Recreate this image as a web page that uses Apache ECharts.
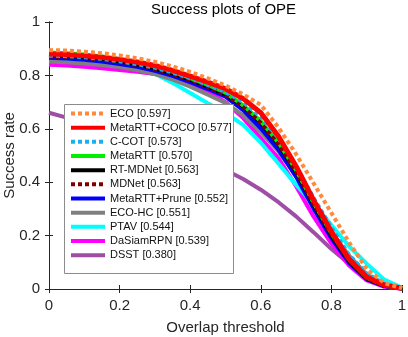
<!DOCTYPE html>
<html style="height: 100%">
<head>
    <meta charset="utf-8">
    <title>Success plots of OPE</title>
    <script src="https://cdn.jsdelivr.net/npm/echarts@6/dist/echarts.min.js"></script>
    <style>
        html, body { margin: 0; padding: 0; background: #fff; }
        #container { width: 408px; height: 337px; }
    </style>
</head>
<body>
<div id="container"></div>
<script>
    // overlap thresholds (x)
    var thresholds = [0, 0.05, 0.1, 0.15, 0.2, 0.25, 0.3, 0.35, 0.4, 0.45, 0.5, 0.55, 0.6, 0.65, 0.7, 0.75, 0.8, 0.85, 0.9, 0.95, 1];
    var tickLabels = ['0', '0.2', '0.4', '0.6', '0.8', '1'];

    // success rate of each tracker
    var eco      = [0.895, 0.893, 0.889, 0.883, 0.875, 0.864, 0.851, 0.834, 0.813, 0.789, 0.762, 0.729, 0.690, 0.605, 0.505, 0.395, 0.285, 0.175, 0.075, 0.022, 0.003];
    var metaCoco = [0.880, 0.878, 0.874, 0.868, 0.860, 0.850, 0.837, 0.819, 0.797, 0.775, 0.750, 0.713, 0.660, 0.572, 0.460, 0.332, 0.215, 0.112, 0.045, 0.015, 0.003];
    var ccot     = [0.874, 0.872, 0.868, 0.862, 0.853, 0.842, 0.829, 0.811, 0.789, 0.764, 0.737, 0.700, 0.645, 0.565, 0.460, 0.340, 0.230, 0.128, 0.058, 0.020, 0.003];
    var metaRtt  = [0.886, 0.883, 0.878, 0.871, 0.861, 0.849, 0.834, 0.814, 0.790, 0.764, 0.735, 0.688, 0.628, 0.548, 0.445, 0.322, 0.208, 0.110, 0.042, 0.013, 0.002];
    var rtMdnet  = [0.876, 0.873, 0.869, 0.862, 0.853, 0.841, 0.826, 0.807, 0.784, 0.758, 0.729, 0.684, 0.622, 0.542, 0.438, 0.315, 0.200, 0.104, 0.039, 0.012, 0.002];
    var mdnet    = [0.871, 0.869, 0.865, 0.859, 0.850, 0.839, 0.825, 0.806, 0.783, 0.757, 0.728, 0.683, 0.622, 0.543, 0.440, 0.318, 0.203, 0.106, 0.041, 0.013, 0.002];
    var prune    = [0.866, 0.863, 0.859, 0.852, 0.843, 0.832, 0.817, 0.798, 0.775, 0.749, 0.720, 0.670, 0.602, 0.522, 0.420, 0.300, 0.190, 0.098, 0.036, 0.011, 0.002];
    var ecoHc    = [0.852, 0.849, 0.845, 0.839, 0.831, 0.820, 0.805, 0.784, 0.758, 0.728, 0.697, 0.650, 0.588, 0.515, 0.425, 0.318, 0.215, 0.125, 0.055, 0.018, 0.002];
    var ptav     = [0.860, 0.857, 0.852, 0.846, 0.838, 0.827, 0.806, 0.772, 0.734, 0.696, 0.660, 0.615, 0.548, 0.470, 0.390, 0.318, 0.240, 0.160, 0.095, 0.035, 0.004];
    var daSiam   = [0.840, 0.837, 0.832, 0.827, 0.820, 0.814, 0.805, 0.790, 0.768, 0.742, 0.700, 0.640, 0.565, 0.490, 0.385, 0.270, 0.170, 0.088, 0.032, 0.008, 0.001];
    var dsst     = [0.660, 0.642, 0.622, 0.602, 0.582, 0.562, 0.541, 0.519, 0.496, 0.472, 0.446, 0.412, 0.372, 0.325, 0.272, 0.212, 0.150, 0.095, 0.045, 0.014, 0.002];

    // legend order (as in the figure)
    var names = ['ECO [0.597]', 'MetaRTT+COCO [0.577]', 'C-COT [0.573]', 'MetaRTT [0.570]', 'RT-MDNet [0.563]',
        'MDNet [0.563]', 'MetaRTT+Prune [0.552]', 'ECO-HC [0.551]', 'PTAV [0.544]', 'DaSiamRPN [0.539]', 'DSST [0.380]'];

    function pairs(ys) {
        var out = [];
        for (var i = 0; i < thresholds.length; i++) {
            out.push([thresholds[i], ys[i]]);
        }
        return out;
    }

    function mkLine(name, ys, color, width, dash) {
        return {
            name: name,
            type: 'line',
            data: pairs(ys),
            symbol: 'none',
            smooth: false,
            silent: true,
            lineStyle: {
                color: color,
                width: width,
                type: dash ? [4, 3] : 'solid',
                cap: 'butt'
            },
            itemStyle: { color: color }
        };
    }

    var font = '"Liberation Sans", Arial, Helvetica, sans-serif';
    var axisColor = '#262626';

    // drawn bottom -> top
    var series = [
        mkLine(names[10], dsst, '#9e4ea5', 4, false),
        mkLine(names[9], daSiam, '#ff00ff', 4, false),
        mkLine(names[8], ptav, '#00ffff', 4, false),
        mkLine(names[7], ecoHc, '#808080', 4, false),
        mkLine(names[6], prune, '#0000ff', 4, false),
        mkLine(names[4], rtMdnet, '#000000', 4, false),
        mkLine(names[3], metaRtt, '#00ee00', 4, false),
        mkLine(names[5], mdnet, '#800000', 4, true),
        mkLine(names[2], ccot, '#1ab0f0', 4, true),
        mkLine(names[1], metaCoco, '#ff0000', 5, false),
        mkLine(names[0], eco, '#ff8a3d', 4, true)
    ];

    function tickFmt(v) { return tickLabels[Math.round(v / 0.2)]; }

    var myChart = echarts.init(document.getElementById('container'), null, { renderer: 'canvas' });
    var option = {
        animation: false,
        backgroundColor: '#ffffff',
        title: {
            text: 'Success plots of OPE',
            left: 151,
            top: 2,
            padding: 0,
            textStyle: { fontFamily: font, fontSize: 15, fontWeight: 'normal', color: '#000' }
        },
        grid: { left: 49, right: 6, top: 22, bottom: 48, outerBoundsMode: 'none', containLabel: false },
        legend: {
            data: names,
            orient: 'vertical',
            left: 64,
            top: 104,
            padding: [4, 5, 3, 5],
            itemWidth: 34,
            itemHeight: 12,
            itemGap: 3.17,
            selectedMode: false,
            z: 20,
            itemStyle: { opacity: 0 },
            lineStyle: { width: 4, cap: 'butt' },
            textStyle: { fontFamily: font, fontSize: 11, color: '#111' }
        },
        graphic: [{
            type: 'rect',
            z: 15,
            shape: { x: 64.5, y: 104.5, width: 169, height: 169 },
            style: { fill: '#fff', stroke: '#8c8c8c', lineWidth: 1 }
        }],
        xAxis: [{
            type: 'value',
            min: 0, max: 1, interval: 0.2,
            name: 'Overlap threshold',
            nameLocation: 'middle',
            nameGap: 31,
            nameMoveOverlap: false,
            nameTextStyle: { fontFamily: font, fontSize: 15, color: '#262626' },
            axisLine: { lineStyle: { color: axisColor, width: 1 } },
            axisTick: { inside: true, length: 4, lineStyle: { color: axisColor } },
            axisLabel: { fontFamily: font, fontSize: 15, color: '#262626', margin: 9, formatter: tickFmt },
            splitLine: { show: false }
        }, {
            type: 'value',
            position: 'top',
            min: 0, max: 1, interval: 0.2,
            axisLine: { lineStyle: { color: axisColor, width: 1 } },
            axisTick: { inside: true, length: 4, lineStyle: { color: axisColor } },
            axisLabel: { show: false },
            splitLine: { show: false }
        }],
        yAxis: [{
            type: 'value',
            min: 0, max: 1, interval: 0.2,
            name: 'Success rate',
            nameLocation: 'middle',
            nameGap: 32,
            nameRotate: 90,
            nameMoveOverlap: false,
            nameTextStyle: { fontFamily: font, fontSize: 15, color: '#262626' },
            axisLine: { show: true, lineStyle: { color: axisColor, width: 1 } },
            axisTick: { show: true, inside: true, length: 4, lineStyle: { color: axisColor } },
            axisLabel: { fontFamily: font, fontSize: 15, color: '#262626', margin: 9, formatter: tickFmt },
            splitLine: { show: false }
        }, {
            type: 'value',
            position: 'right',
            min: 0, max: 1, interval: 0.2,
            axisLine: { show: true, lineStyle: { color: axisColor, width: 1 } },
            axisTick: { show: true, inside: true, length: 4, lineStyle: { color: axisColor } },
            axisLabel: { show: false },
            splitLine: { show: false }
        }],
        series: series
    };
    myChart.setOption(option);
</script>
</body>
</html>
